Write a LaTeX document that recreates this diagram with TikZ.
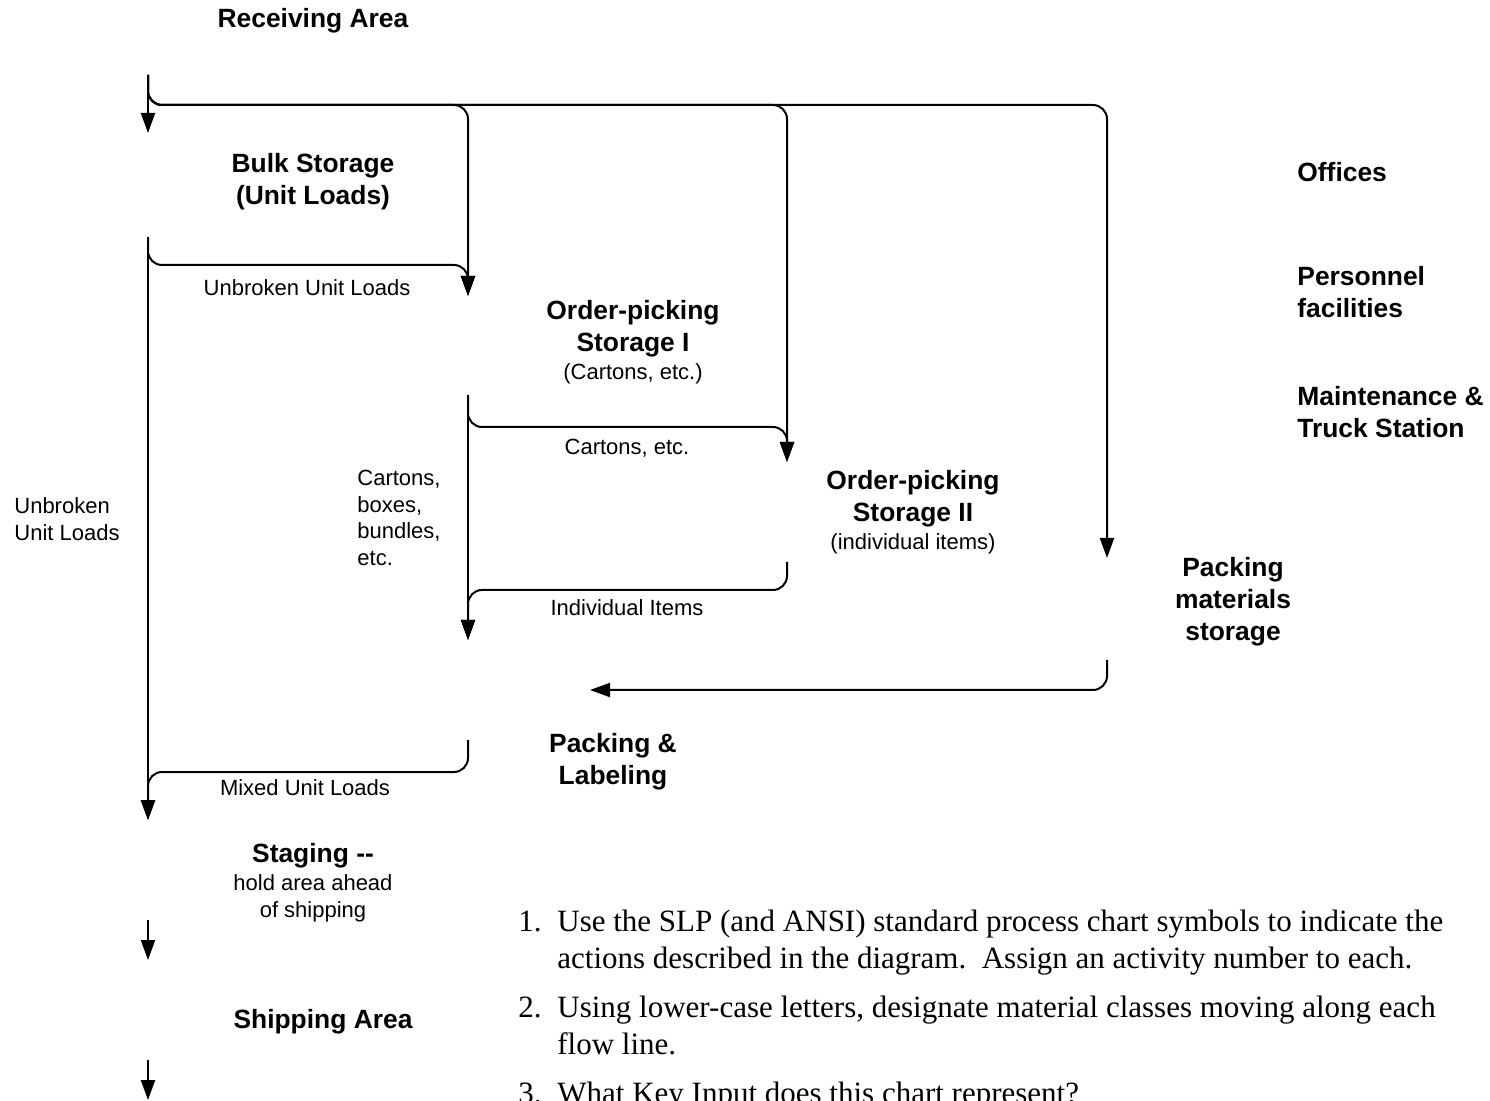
\documentclass[tikz,border=0pt]{standalone}
\usepackage{fontspec}
\setmainfont{Liberation Sans}
\newfontfamily\qfont{Liberation Serif}
\usetikzlibrary{arrows.meta}
\begin{document}
\begin{tikzpicture}[x=0.5pt,y=-0.5pt,
  flow/.style={line width=1pt, rounded corners=7pt, -{Triangle[length=10pt,width=7pt]}},
  thinflow/.style={flow, line width=0.55pt},
  area/.style={font=\fontsize{13.2}{16}\selectfont\bfseries, align=center, inner sep=0pt},
  sub/.style={font=\fontsize{11}{13.4}\selectfont, align=center, inner sep=0pt},
  lbl/.style={sub, align=left, anchor=west},
  q/.style={font=\qfont\fontsize{15.5}{18}\selectfont, anchor=base west, inner sep=0pt}]
\useasboundingbox (0,0) rectangle (1490,1101);

% areas of the warehouse
\node[area] (recv) at (313,21) {Receiving Area};
\node[area] (bulk) at (313,182) {Bulk Storage\\(Unit Loads)};
\node[area] (op1) at (633,329) {Order-picking\\Storage I};
\node[sub] (op1s) at (633,374) {(Cartons, etc.)};
\node[area] (op2) at (913,499) {Order-picking\\Storage II};
\node[sub] (op2s) at (913,544) {(individual items)};
\node[area] (pms) at (1233,602) {Packing\\materials\\storage};
\node[area, align=left, anchor=west] (off) at (1297,172) {Offices};
\node[area, align=left, anchor=west] (pers) at (1297,292) {Personnel\\facilities};
\node[area, align=left, anchor=west] (maint) at (1297,412) {Maintenance \&\\Truck Station};
\node[area] (pack) at (613,762) {Packing \&\\Labeling};
\node[area] (stg) at (313,856) {Staging {-}{-}};
\node[sub] (stgs) at (313,898) {hold area ahead\\of shipping};
\node[area] (ship) at (323,1022) {Shipping Area};

% flow labels
\node[sub] (l-ub) at (307,288) {Unbroken Unit Loads};
\node[lbl] (l-ub2) at (14,519) {Unbroken\\Unit Loads};
\node[sub] (l-ct) at (627,448) {Cartons, etc.};
\node[lbl] (l-cb) at (357,518) {Cartons,\\boxes,\\bundles,\\etc.};
\node[sub] (l-ii) at (627,608) {Individual Items};
\node[sub] (l-mu) at (305,788) {Mixed Unit Loads};

% connector ends
\coordinate (rA) at (148,75);
\coordinate (trunk) at (148,105);
\coordinate (bIn) at (148,133);
\coordinate (bOut) at (148,237);
\coordinate (bTurn) at (148,265);
\coordinate (o1In) at (468,296);
\coordinate (o1Out) at (468,395);
\coordinate (o1Turn) at (468,427);
\coordinate (o2In) at (787,462);
\coordinate (o2Out) at (787,562);
\coordinate (o2Turn) at (787,590);
\coordinate (pkIn) at (468,640);
\coordinate (pmIn) at (1107,558);
\coordinate (pmOut) at (1107,660);
\coordinate (pkSide) at (590,690);
\coordinate (pkOut) at (468,740);
\coordinate (pkTurn) at (468,772);
\coordinate (stIn) at (148,820);
\coordinate (stOut) at (148,920);
\coordinate (shIn) at (148,960);
\coordinate (shOut) at (148,1060);
\coordinate (shEnd) at (148,1100);

% flows
\draw[flow] (rA) -- (bIn);
\draw[flow] (rA) -- (trunk) -| (o1In);
\draw[flow] (rA) -- (trunk) -| (o2In);
\draw[flow] (rA) -- (trunk) -| (pmIn);
\draw[flow] (bOut) -- (bTurn) -| (o1In);
\draw[flow] (bOut) -- (stIn);
\draw[flow] (o1Out) -- (o1Turn) -| (o2In);
\draw[thinflow] (o1Out) -- (pkIn);
\draw[flow] (o2Out) -- (o2Turn) -| (pkIn);
\draw[flow] (pmOut) |- (pkSide);
\draw[flow] (pkOut) -- (pkTurn) -| (stIn);
\draw[flow] (stOut) -- (shIn);
\draw[flow] (shOut) -- (shEnd);

% questions
\node[q] (n1) at (518,931) {1.};
\node[q] (t1a) at (557,931) {Use the SLP (and ANSI) standard process chart symbols to indicate the};
\node[q] (t1b) at (557,968) {actions described in the diagram.\ \ Assign an activity number to each.};
\node[q] (n2) at (518,1017) {2.};
\node[q] (t2a) at (557,1017) {Using lower-case letters, designate material classes moving along each};
\node[q] (t2b) at (557,1054) {flow line.};
\node[q] (n3) at (518,1103) {3.};
\node[q] (t3) at (557,1103) {What Key Input does this chart represent?};
\end{tikzpicture}
\end{document}
